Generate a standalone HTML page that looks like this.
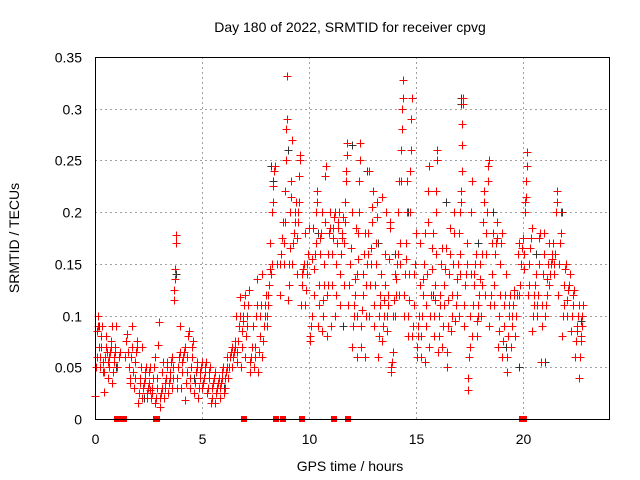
<!DOCTYPE html>
<html><head><meta charset="utf-8"><style>
body{margin:0;background:#fff}
svg{display:block;font-family:"Liberation Sans",sans-serif}
</style></head><body>
<svg id="chart" width="640" height="480">
<text x="350" y="32" font-size="14" text-anchor="middle">Day 180 of 2022, SRMTID for receiver cpvg</text>
<text x="350" y="471" font-size="14" text-anchor="middle">GPS time / hours</text>
<text transform="translate(19,238) rotate(-90)" font-size="14" text-anchor="middle">SRMTID / TECUs</text>
<g id="grid"></g><g id="ticks"></g><g id="black" shape-rendering="crispEdges"></g><g id="red" shape-rendering="crispEdges"></g>
<rect x="95.5" y="57.5" width="514" height="362" fill="none" stroke="#000" stroke-width="1" shape-rendering="crispEdges"/>
</svg>
<script>
const xTicks=[0,5,10,15,20];
const yTicks=[0,0.05,0.1,0.15,0.2,0.25,0.3,0.35];
const yTickLabels=["0","0.05","0.1","0.15","0.2","0.25","0.3","0.35"];
const binHours=[0.1,0.3,0.5,0.7,0.9,1.1,1.5,1.7,1.9,2.1,2.3,2.5,2.7,2.9,3.1,3.3,3.5,3.7,3.9,4.1,4.3,4.5,4.7,4.9,5.1,5.3,5.5,5.7,5.9,6.1,6.3,6.5,6.7,6.9,7.1,7.3,7.5,7.7,7.9,8.1,8.3,8.5,8.7,8.9,9.1,9.3,9.5,9.7,9.9,10.1,10.3,10.5,10.7,10.9,11.1,11.3,11.5,11.7,11.9,12.1,12.3,12.5,12.7,12.9,13.1,13.3,13.5,13.7,13.9,14.1,14.3,14.5,14.7,14.9,15.1,15.3,15.5,15.7,15.9,16.1,16.3,16.5,16.7,16.9,17.1,17.3,17.5,17.7,17.9,18.1,18.3,18.5,18.7,18.9,19.1,19.3,19.5,19.7,19.9,20.1,20.3,20.5,20.7,20.9,21.1,21.3,21.5,21.7,21.9,22.1,22.3,22.5,22.7];
const binValues=[
[.022,.05,.06,.085,.09,.1,.07],[.05,.06,.07,.08,.09,.055,.045],[.026,.045,.06,.07,.08,.065,.055],[.04,.05,.06,.065,.07,.075,.09],[.035,.045,.055,.06,.065,.07,.09],[.05,.06,.065],
[.06,.075,.082,.065,.05],[.035,.04,.06,.07,.09,.045],[.03,.04,.055,.065,.07,.075],[.015,.025,.035,.04,.05,.07],[.02,.03,.035,.04,.045,.05],[.02,.025,.03,.035,.045,.05,.028],[.02,.025,.03,.04,.05,.06],[.015,.02,.03,.04,.072,.094],
[.012,.02,.025,.03,.045,.055],[.02,.03,.035,.04,.05,.055],[.025,.035,.04,.045,.055,.06],[.03,.04,.05,.115,.125,.135,.145,.17,.178],[.03,.04,.05,.06,.065,.09],
[.03,.045,.055,.06,.065,.07],[.018,.035,.045,.06,.08,.085],[.03,.04,.05,.06,.07,.075],[.025,.035,.045,.05,.055],[.02,.03,.04,.045,.05,.055],
[.03,.035,.04,.045,.05,.055],[.025,.03,.04,.045,.05],[.015,.02,.03,.035,.04,.045],[.015,.025,.03,.035,.04],[.02,.03,.035,.04,.045,.05],
[.025,.03,.04,.045,.05,.06],[.04,.05,.06,.065,.07],[.05,.06,.065,.07,.075,.1],[.055,.065,.075,.09,.1,.118],[.05,.07,.085,.095,.1,.11,.12],
[.06,.08,.09,.1,.11,.125],[.045,.055,.06,.07,.09],[.05,.06,.07,.1,.11,.135],[.045,.065,.08,.1,.11,.14],[.06,.075,.09,.1,.11,.12],
[.09,.1,.11,.12,.13,.145,.17],[.14,.15,.2,.21,.225,.24,.245],[.15],[.12,.15,.16,.175,.19],[.15,.17,.19,.22,.25,.28,.29,.332],
[.115,.13,.15,.165,.2,.215,.23,.27],[.15,.17,.18,.19,.2,.21],[.14,.175,.19,.2,.21,.235,.25,.255],[.11,.13,.14,.145,.15,.18],[.11,.125,.14,.15,.16,.185],
[.075,.08,.09,.1,.155,.185],[.12,.145,.16,.17,.2,.22,.21],[.09,.11,.13,.16,.175,.18,.2],[.085,.1,.115,.13,.15,.19,.235,.245],[.08,.12,.13,.16,.18,.185,.2],
[.09,.13,.16,.175,.185,.195,.2],[.1,.12,.15,.17,.185,.19,.2],[.11,.14,.16,.175,.18,.195],[.13,.17,.19,.21,.23,.24,.255,.267],[.11,.13,.15,.165,.2],
[.07,.09,.1,.11,.12,.135,.185],[.06,.1,.14,.155,.18,.2,.23,.25,.267],[.07,.09,.105,.12,.14,.16,.18],[.06,.1,.13,.15,.16,.18,.24],[.1,.13,.15,.165,.19,.205,.22],
[.09,.11,.13,.15,.17,.195,.21],[.06,.08,.1,.11,.12,.14,.215],[.075,.09,.1,.115,.13,.16,.2],[.085,.1,.11,.12,.155,.185,.19],[.045,.05,.055,.065,.1,.115,.14],
[.1,.12,.135,.15,.16,.2,.23],[.12,.15,.17,.23,.26,.28,.3,.31,.328],[.1,.12,.14,.155,.17,.2,.23],[.08,.1,.115,.14,.2,.24,.26,.29,.31],[.08,.09,.11,.14,.15,.18],
[.06,.07,.08,.09,.1,.13,.17],[.06,.08,.1,.12,.135,.15,.18],[.055,.09,.11,.14,.19,.22,.245],[.07,.1,.12,.145,.165,.18],[.08,.1,.115,.13,.16,.2,.22,.25,.26],
[.065,.08,.1,.11,.12,.15,.165],[.07,.09,.11,.13,.145,.165],[.05,.065,.09,.115,.14,.16,.185],[.085,.1,.12,.15,.18,.2],[.095,.11,.12,.135,.15,.18],
[.1,.14,.16,.2,.21,.22,.24,.265,.285,.305,.31],[.09,.11,.13,.14,.15,.17],[.028,.04,.06,.07,.1,.14,.2,.23],[.08,.11,.13,.14,.15,.16],[.08,.095,.1,.11,.12,.135,.15],
[.1,.13,.16,.19,.21,.22],[.12,.16,.18,.2,.23,.245,.25],[.09,.11,.12,.14,.17,.18],[.11,.13,.16,.17,.175,.19],[.07,.085,.1,.12,.15,.17,.18],
[.06,.075,.09,.11,.12,.14],[.045,.06,.08,.1,.11,.12],[.07,.09,.1,.11,.12,.125],[.08,.1,.12,.16,.17],[.12,.13,.15,.165,.175],
[.145,.16,.2,.21,.215,.23,.245,.258],[.12,.13,.15,.165,.175,.185],[.085,.1,.11,.12,.13,.14],[.1,.11,.12,.15,.175,.18],[.055,.09,.11,.14,.16,.18],
[.1,.11,.12,.135,.15,.17],[.13,.14,.15,.155,.16,.17],[.14,.15,.16,.2,.21,.22],[.12,.15,.17,.18,.2],[.08,.1,.11,.13,.145,.15],
[.1,.115,.125,.13,.14],[.085,.1,.11,.12,.125],[.06,.075,.085,.09,.1,.11],[.04,.06,.075,.08,.09,.1,.11]];
const blackHours=[0.2,1.0,2.3,3.8,4.6,6.0,7.6,8.2,8.3,8.9,9.0,10.4,11.6,12.0,12.7,13.2,14.0,14.6,15.2,15.8,16.4,17.1,17.1,17.9,18.6,19.2,19.8,20.6,21.0,21.8,22.6,22.7];
const blackValues=[.09,.05,.02,.14,.04,.03,.045,.245,.23,.25,.26,.18,.09,.265,.24,.17,.16,.2,.06,.12,.21,.31,.305,.17,.2,.07,.05,.16,.055,.2,.04,.095];
const zeroHours=[1.05,1.15,1.25,1.35,2.85,2.9,6.95,8.45,8.8,9.65,11.15,11.8,19.95,20.05];
const X=h=>95+h*21.4167, Y=v=>419-v/0.35*362;
const NS='http://www.w3.org/2000/svg';
function mk(tag,attrs,parent){const e=document.createElementNS(NS,tag);for(const k in attrs)e.setAttribute(k,attrs[k]);parent.appendChild(e);return e;}
const grid=document.getElementById('grid'),ticks=document.getElementById('ticks');
xTicks.forEach(t=>{const x=Math.round(X(t))+0.5;
 if(t>0){const g=mk('line',{x1:x,x2:x,y1:57,y2:419,stroke:'#a0a0a0','stroke-dasharray':'2,3'},grid);
 
 }
 const l=mk('text',{x:x,y:444,'font-size':14,'text-anchor':'middle'},ticks);l.textContent=t;
 
 });
yTicks.forEach((t,i)=>{const y=Math.round(Y(t))+0.5;
 if(t>0&&t<0.35){const g=mk('line',{x1:95,x2:609,y1:y,y2:y,stroke:'#a0a0a0','stroke-dasharray':'2,3'},grid);
 
 }
 const l=mk('text',{x:82,y:y+5,'font-size':14,'text-anchor':'end'},ticks);l.textContent=yTickLabels[i];
 
 });
function plus(h,v,col,parent){const x=Math.round(X(h))+0.5,y=Math.round(Y(v))+0.5;
 const p=mk('path',{d:`M${x-4} ${y}h8M${x} ${y-4}v8`,stroke:col,'stroke-width':1,fill:'none'},parent);
 return p;}
const blk=document.getElementById('black'),red=document.getElementById('red');
blackHours.forEach((h,i)=>{const p=plus(h,blackValues[i],'#333',blk);
 
 });
binHours.forEach((h,b)=>{const vals=binValues[b],n=vals.length;
 vals.forEach((v,i)=>{const hh=h+((i+0.5)/n-0.5)*0.2;const p=plus(hh,v,'#f00',red);
 
 });});
zeroHours.forEach(h=>{const r=mk('rect',{x:Math.round(X(h))-3,y:416,width:6,height:6,fill:'#f00'},red);
 
 });
</script>
</body></html>
